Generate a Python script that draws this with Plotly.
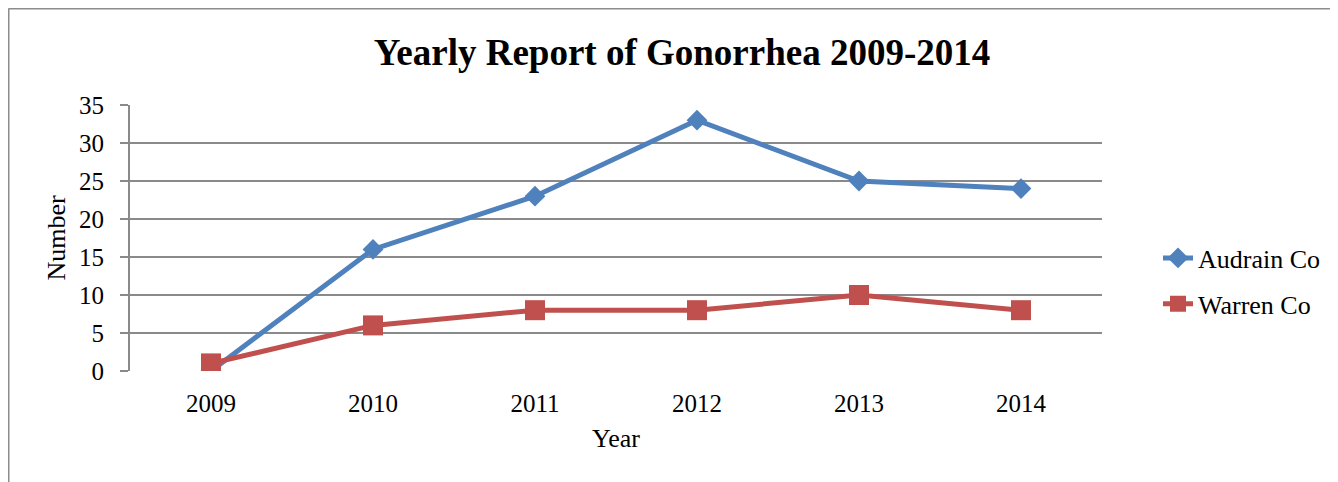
import plotly.graph_objects as go

years = ["2009", "2010", "2011", "2012", "2013", "2014"]
audrain = [0, 16, 23, 33, 25, 24]
warren = [1, 6, 8, 8, 10, 8]
y_ticks = [0, 5, 10, 15, 20, 25, 30, 35]

OFF = 8  # page body margin
W, H = 1338 - OFF, 482 - OFF
# plot area in reference-image pixels
L, R, T, B = 130, 1102, 105, 371
FONT = "Liberation Serif, Times New Roman, serif"

fig = go.Figure()
fig.add_trace(go.Scatter(x=years, y=audrain, name="Audrain Co", mode="lines+markers",
                         legendgroup="a",
                         line=dict(color="#4F81BD", width=5),
                         marker=dict(symbol="diamond", size=16, color="#4F81BD")))
fig.add_trace(go.Scatter(x=years, y=warren, name="Warren Co", mode="lines+markers",
                         legendgroup="b",
                         line=dict(color="#C0504D", width=5),
                         marker=dict(symbol="square", size=20, color="#C0504D")))

def px(x):
    return (x - L) / (R - L)

def py(y):
    return (B - y) / (B - T)

fig.update_layout(
    width=W, height=H,
    margin=dict(l=L - OFF, r=W - (R - OFF), t=T - OFF, b=H - (B - OFF), pad=0,
                autoexpand=False),
    paper_bgcolor="white", plot_bgcolor="white",
    font=dict(family=FONT, size=25, color="black"),
    title=dict(text="<b>Yearly Report of Gonorrhea 2009-2014</b>",
               font=dict(family=FONT, size=37, color="black"),
               x=(682 - OFF) / W, xanchor="center", xref="container",
               y=1 - (52 - OFF) / H, yanchor="middle", yref="container"),
    showlegend=True,
    legend=dict(x=px(1158), xanchor="left", y=py(281), yanchor="middle",
                font=dict(family=FONT, size=26), tracegroupgap=9,
                bgcolor="rgba(0,0,0,0)"),
    xaxis=dict(type="category", range=[-0.5, 5.5], showgrid=False, zeroline=False,
               showline=False, ticks="", ticklabelstandoff=15,
               tickfont=dict(family=FONT, size=25),
               title=dict(text="Year", font=dict(family=FONT, size=26), standoff=12)),
    yaxis=dict(range=[0, 35], tickvals=y_ticks, showgrid=True, gridcolor="#8a8a8a",
               gridwidth=2, zeroline=False, showline=True, linecolor="#8a8a8a",
               linewidth=2, ticks="outside", ticklen=8, tickcolor="#8a8a8a",
               tickwidth=2, ticklabelstandoff=11,
               tickfont=dict(family=FONT, size=25),
               title=dict(text="Number", font=dict(family=FONT, size=26), standoff=6)),
    shapes=[
        dict(type="line", xref="paper", yref="paper", x0=px(8.5), x1=px(8.5),
             y0=py(8.5), y1=py(500), line=dict(color="#8c8c8c", width=2)),
        dict(type="line", xref="paper", yref="paper", x0=px(8.5), x1=px(1400),
             y0=py(8.5), y1=py(8.5), line=dict(color="#8c8c8c", width=2)),
    ],
)

fig.write_html("out.html")
